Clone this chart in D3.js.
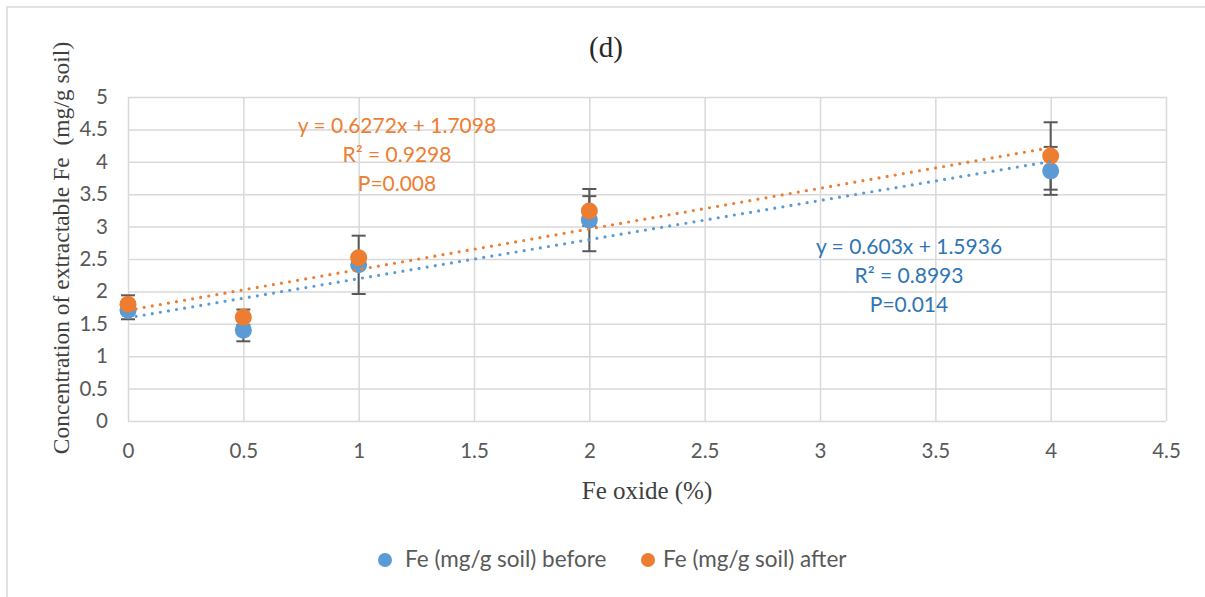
<!DOCTYPE html>
<html>
<head>
<meta charset="utf-8">
<script src="https://cdn.jsdelivr.net/npm/d3@7"></script>
<style>
  html, body { margin: 0; padding: 0; background: #fff; }
  svg { display: block; }
</style>
</head>
<body>
<svg id="chart" width="1205" height="597"></svg>
<script>
// Fe oxide dose (%) on the x axis
const feOxide = [0, 0.5, 1, 2, 4];
// Extractable Fe (mg/g soil) before and after, with error bar half-widths
const feBefore = [1.71, 1.40, 2.41, 3.10, 3.86];
const feBeforeErr = [0.14, 0.17, 0.45, 0.48, 0.37];
const feAfter = [1.80, 1.60, 2.52, 3.24, 4.09];
const feAfterErr = [0.14, 0.12, 0.05, 0.23, 0.52];
// Linear fits reported for each series
const fitBefore = { slope: 0.603, intercept: 1.5936, r2: "0.8993", p: "0.014" };
const fitAfter = { slope: 0.6272, intercept: 1.7098, r2: "0.9298", p: "0.008" };
// Axis ticks
const xTicks = [0, 0.5, 1, 1.5, 2, 2.5, 3, 3.5, 4, 4.5];
const yTicks = [0, 0.5, 1, 1.5, 2, 2.5, 3, 3.5, 4, 4.5, 5];
const seriesNames = ["Fe (mg/g soil) before", "Fe (mg/g soil) after"];

const blue = "#5B9BD5", orange = "#ED7D31";
const blueText = "#2E75B6", orangeText = "#ED7D31";
const gridColor = "#d9d9d9", tickColor = "#595959";
const sans = "Lato, 'Open Sans', sans-serif";
const serif = "'Liberation Serif', 'DejaVu Serif', serif";

const svg = d3.select("#chart");

// outer chart frame
svg.append("rect").attr("x", 7).attr("y", 7).attr("width", 1300).attr("height", 700)
  .attr("fill", "none").attr("stroke", "#d9d9d9").attr("stroke-width", 1.5);

const x = d3.scaleLinear().domain([0, 4.5]).range([128, 1166]);
const y = d3.scaleLinear().domain([0, 5]).range([421, 97]);

// gridlines
const gx = svg.append("g").attr("transform", `translate(0,${y(0)})`)
  .call(d3.axisBottom(x).tickValues(xTicks).tickSize(-(y(0) - y(5))).tickFormat(""));
const gy = svg.append("g").attr("transform", `translate(${x(0)},0)`)
  .call(d3.axisLeft(y).tickValues(yTicks).tickSize(-(x(4.5) - x(0))).tickFormat(""));
[gx, gy].forEach(g => {
  g.select(".domain").remove();
  g.selectAll(".tick line").attr("stroke", gridColor).attr("stroke-width", 1.5);
});

// tick labels
const xl = svg.append("g").attr("transform", `translate(0,${y(0)})`)
  .call(d3.axisBottom(x).tickValues(xTicks).tickSize(0).tickPadding(22).tickFormat(d3.format("")));
const yl = svg.append("g").attr("transform", `translate(${x(0)},0)`)
  .call(d3.axisLeft(y).tickValues(yTicks).tickSize(0).tickPadding(20).tickFormat(d3.format("")));
[xl, yl].forEach(g => {
  g.select(".domain").remove();
  g.selectAll(".tick text").attr("fill", tickColor).style("font-family", sans).style("font-size", "20.5px");
});

// error bars
function errorBars(vals, errs) {
  const g = svg.append("g").attr("stroke", "#595959").attr("stroke-width", 2).attr("fill", "none");
  feOxide.forEach((xv, i) => {
    const cx = x(xv), top = y(vals[i] + errs[i]), bot = y(vals[i] - errs[i]);
    g.append("line").attr("x1", cx).attr("x2", cx).attr("y1", top).attr("y2", bot);
    g.append("line").attr("x1", cx - 7).attr("x2", cx + 7).attr("y1", top).attr("y2", top);
    g.append("line").attr("x1", cx - 7).attr("x2", cx + 7).attr("y1", bot).attr("y2", bot);
  });
}
errorBars(feBefore, feBeforeErr);
errorBars(feAfter, feAfterErr);

// markers
function markers(vals, color) {
  svg.append("g").selectAll("circle").data(vals).join("circle")
    .attr("cx", (d, i) => x(feOxide[i])).attr("cy", d => y(d))
    .attr("r", 8.5).attr("fill", color);
}
markers(feBefore, blue);
markers(feAfter, orange);

// dotted trendlines
function trend(fit, color) {
  const x0 = d3.min(feOxide), x1 = d3.max(feOxide);
  svg.append("line")
    .attr("x1", x(x0)).attr("y1", y(fit.intercept + fit.slope * x0))
    .attr("x2", x(x1)).attr("y2", y(fit.intercept + fit.slope * x1))
    .attr("stroke", color).attr("stroke-width", 3.2)
    .attr("stroke-linecap", "round").attr("stroke-dasharray", "0 8.2");
}
trend(fitBefore, blue);
trend(fitAfter, orange);

// equation labels
function eqLabel(fit, cx, cy, color) {
  const lines = [
    `y = ${fit.slope}x + ${fit.intercept}`,
    `R² = ${fit.r2}`,
    `P=${fit.p}`
  ];
  svg.append("g").selectAll("text").data(lines).join("text")
    .attr("x", cx).attr("y", (d, i) => cy + i * 29)
    .attr("text-anchor", "middle").attr("fill", color)
    .style("font-family", sans).style("font-size", "21px")
    .text(d => d);
}
eqLabel(fitAfter, 397, 133, orangeText);
eqLabel(fitBefore, 909, 254, blueText);

// title
svg.append("text").attr("x", 606).attr("y", 57).attr("text-anchor", "middle")
  .style("font-family", serif).style("font-size", "29px").attr("fill", "#262626").text("(d)");

// axis titles
svg.append("text").attr("x", 647).attr("y", 499).attr("text-anchor", "middle")
  .style("font-family", serif).style("font-size", "25px").attr("fill", "#404040").text("Fe oxide (%)");
svg.append("text").attr("transform", "translate(69,248) rotate(-90)").attr("text-anchor", "middle")
  .style("font-family", serif).style("font-size", "23.5px").attr("fill", "#404040")
  .style("white-space", "pre").text("Concentration of extractable Fe  (mg/g soil)");

// legend
const legend = svg.append("g");
const legendItems = [
  { name: seriesNames[0], color: blue, cx: 385, tx: 405 },
  { name: seriesNames[1], color: orange, cx: 648, tx: 663 }
];
legendItems.forEach(it => {
  legend.append("circle").attr("cx", it.cx).attr("cy", 560).attr("r", 7).attr("fill", it.color);
  legend.append("text").attr("x", it.tx).attr("y", 567).attr("fill", tickColor)
    .style("font-family", sans).style("font-size", "22.5px").text(it.name);
});
</script>
</body>
</html>
